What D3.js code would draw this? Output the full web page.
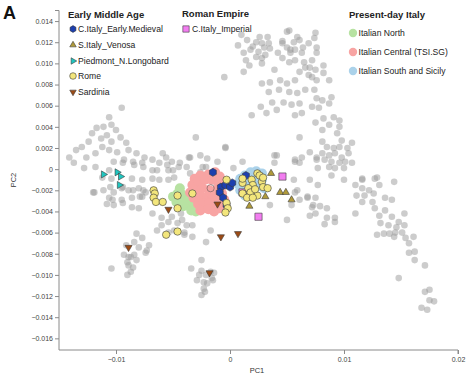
<!DOCTYPE html>
<html><head><meta charset="utf-8">
<script src="https://cdn.jsdelivr.net/npm/d3@7"></script>
<style>html,body{margin:0;padding:0;background:#fff;}svg{display:block;font-family:"Liberation Sans",Arial,Helvetica,sans-serif;}</style>
</head><body><svg id="c" width="467" height="381"></svg>
<script>
// ---------- data (PC1, PC2) ----------
const referencePanel = [
[0.0010,0.0127],[0.0015,0.0122],[0.0023,0.0120],[0.0028,0.0119],[0.0018,0.0113],[0.0025,0.0111],[0.0012,0.0110],[0.0023,0.0106],[0.0028,0.0105],[0.0014,0.0103],
[0.0033,0.0125],[0.0026,0.0125],[0.0020,0.0116],[0.0050,0.0130],[0.0059,0.0125],[0.0046,0.0119],[0.0053,0.0113],[0.0064,0.0115],[0.0031,0.0108],[0.0042,0.0110],
[0.0035,0.0114],[0.0017,0.0098],[0.0007,0.0117],
[0.0052,0.0131],[0.0075,0.0129],[0.0074,0.0124],[0.0061,0.0122],[0.0056,0.0120],[0.0046,0.0121],[0.0034,0.0119],[0.0030,0.0115],[0.0050,0.0115],[0.0057,0.0113],
[0.0063,0.0110],[0.0053,0.0110],[0.0069,0.0119],[0.0076,0.0115],[0.0046,0.0105],[0.0052,0.0101],[0.0057,0.0103],[0.0065,0.0101],[0.0072,0.0103],[0.0076,0.0110],
[0.0066,0.0096],[0.0061,0.0092],[0.0070,0.0096],[0.0075,0.0094],[0.0082,0.0098],[0.0039,0.0094],[0.0035,0.0082],[0.0044,0.0084],[0.0050,0.0081],[0.0057,0.0084],
[0.0069,0.0089],[0.0072,0.0087],[0.0076,0.0084],[0.0082,0.0091],[0.0087,0.0084],[0.0034,0.0073],[0.0043,0.0075],[0.0052,0.0073],[0.0059,0.0072],[0.0066,0.0075],
[0.0074,0.0075],[0.0076,0.0067],[0.0081,0.0065],[0.0087,0.0062],[0.0089,0.0068],[0.0037,0.0063],[0.0047,0.0063],[0.0054,0.0061],[0.0061,0.0062],[0.0072,0.0059],
[0.0078,0.0058],[0.0032,0.0053],[0.0041,0.0056],[0.0057,0.0051],[0.0063,0.0053],[0.0082,0.0048],[0.0091,0.0049],[0.0096,0.0046],[0.0075,0.0044],[0.0087,0.0042],
[0.0096,0.0040],[0.0081,0.0037],[0.0094,0.0034],[0.0061,0.0030],[0.0098,0.0027],[0.0107,0.0025],[0.0081,0.0026],[0.0085,0.0021],[0.0091,0.0020],[0.0096,0.0021],
[0.0103,0.0020],[0.0081,0.0015],[0.0087,0.0013],[0.0092,0.0015],[0.0098,0.0011],[0.0104,0.0015],[0.0083,0.0009],[0.0089,0.0007],[0.0096,0.0006],[0.0101,0.0007],
[0.0087,0.0002],[0.0092,0.0001],[0.0076,0.0011],[0.0100,0.0001],[0.0107,0.0006],[0.0039,0.0013],[0.0057,0.0009],[0.0063,0.0011],[0.0039,0.0006],[0.0116,-0.0009],
[0.0129,-0.0008],[0.0028,0.0100],[-0.0005,0.0087],[0.0012,0.0092],[0.0028,0.0081],[0.0019,0.0051],[0.0027,0.0059],
[-0.0004,0.0021],[0.0041,0.0013],[0.0057,0.0007],[0.0061,0.0006],[0.0070,0.0016],[0.0076,0.0009],[0.0077,0.0001],[0.0070,-0.0010],[0.0077,-0.0015],[0.0059,-0.0020],
[0.0068,-0.0026],[0.0073,-0.0034],[-0.0024,0.0002],[-0.0020,0.0010],[-0.0011,0.0007],[-0.0026,-0.0003],[0.0011,0.0007],[0.0003,0.0001],[0.0050,-0.0048],
[0.0056,-0.0010],[0.0089,-0.0006],[0.0100,-0.0010],[0.0116,-0.0010],[0.0127,-0.0009],[0.0144,-0.0012],[0.0131,-0.0015],[0.0110,-0.0015],[0.0116,-0.0018],[0.0122,-0.0020],
[0.0111,-0.0025],[0.0118,-0.0025],[0.0126,-0.0023],[0.0057,-0.0022],[0.0061,-0.0029],[0.0068,-0.0027],[0.0075,-0.0027],[0.0072,-0.0036],[0.0079,-0.0035],[0.0085,-0.0037],
[0.0070,-0.0044],[0.0075,-0.0042],[0.0085,-0.0046],[0.0092,-0.0046],[0.0083,-0.0052],[0.0092,-0.0050],[0.0054,-0.0034],[0.0035,-0.0034],[0.0116,-0.0031],[0.0125,-0.0031],
[0.0136,-0.0027],[0.0142,-0.0029],[0.0127,-0.0037],[0.0131,-0.0044],[0.0136,-0.0039],[0.0142,-0.0045],[0.0153,-0.0042],[0.0148,-0.0050],[0.0132,-0.0051],[0.0139,-0.0053],
[0.0146,-0.0055],[0.0153,-0.0053],[0.0129,-0.0062],[0.0135,-0.0061],[0.0140,-0.0061],[0.0145,-0.0060],[0.0144,-0.0064],[0.0151,-0.0060],[0.0154,-0.0065],[0.0161,-0.0064],
[0.0157,-0.0070],[0.0157,-0.0079],[0.0162,-0.0078],[0.0162,-0.0086],[0.0171,-0.0091],[0.0148,-0.0103],[0.0171,-0.0116],[0.0175,-0.0114],[0.0175,-0.0124],[0.0179,-0.0125],
[0.0168,-0.0131],[0.0173,-0.0133],[0.0110,-0.0042],
[-0.0095,0.0058],[-0.0106,0.0049],[-0.0104,0.0042],[-0.0111,0.0040],[-0.0117,0.0039],[-0.0100,0.0037],[-0.0108,0.0032],[-0.0113,0.0029],[-0.0121,0.0034],[-0.0096,0.0030],
[-0.0104,0.0026],[-0.0091,0.0025],[-0.0112,0.0021],[-0.0124,0.0026],[-0.0130,0.0021],[-0.0135,0.0018],[-0.0126,0.0011],[-0.0141,0.0011],[-0.0118,0.0015],[-0.0106,0.0018],
[-0.0099,0.0016],[-0.0089,0.0018],[-0.0082,0.0015],[-0.0075,0.0011],[-0.0068,0.0009],[-0.0062,0.0006],[-0.0077,0.0006],[-0.0084,0.0004],[-0.0093,0.0009],[-0.0102,0.0007],
[-0.0056,0.0011],[-0.0051,0.0007],[-0.0045,0.0002],[-0.0036,0.0011],[-0.0030,0.0030],[-0.0004,0.0020],[-0.0021,0.0002],[-0.0054,-0.0001],[-0.0068,-0.0001],[-0.0118,0.0002],
[-0.0128,0.0001],[-0.0137,0.0006],
[-0.0106,-0.0001],[-0.0094,0.0006],[-0.0085,0.0007],[-0.0076,0.0002],[-0.0064,-0.0001],[-0.0120,-0.0022],[-0.0105,-0.0017],[-0.0094,-0.0017],[-0.0085,-0.0020],[-0.0079,-0.0026],
[-0.0076,-0.0020],[-0.0103,-0.0029],[-0.0094,-0.0032],[-0.0044,0.0006],[-0.0035,0.0011],[-0.0038,0.0002],[-0.0055,0.0004],[-0.0050,-0.0001],[-0.0059,0.0015],[-0.0026,0.0013],
[-0.0035,-0.0004],
[-0.0112,-0.0008],[-0.0104,-0.0009],[-0.0086,-0.0009],[-0.0077,-0.0010],[-0.0068,-0.0009],[-0.0062,-0.0010],[-0.0054,-0.0010],[-0.0049,-0.0008],[-0.0119,-0.0022],[-0.0111,-0.0020],
[-0.0102,-0.0022],[-0.0095,-0.0018],[-0.0089,-0.0020],[-0.0080,-0.0018],[-0.0074,-0.0022],[-0.0106,-0.0027],[-0.0095,-0.0029],[-0.0086,-0.0027],[-0.0077,-0.0026],[-0.0108,-0.0033],
[-0.0102,-0.0034],[-0.0080,-0.0037],[-0.0068,-0.0042],[-0.0065,-0.0031],[-0.0086,-0.0036],
[-0.0060,-0.0053],[-0.0054,-0.0050],[-0.0051,-0.0045],[-0.0046,-0.0051],[-0.0042,-0.0048],[-0.0038,-0.0053],[-0.0040,-0.0060],[-0.0033,-0.0053],[-0.0033,-0.0064],[-0.0064,-0.0058],
[-0.0054,-0.0060],[-0.0060,-0.0046],[-0.0049,-0.0058],[-0.0043,-0.0042],[-0.0040,-0.0062],[-0.0021,-0.0069],[-0.0017,-0.0058],
[-0.0082,-0.0061],[-0.0077,-0.0065],[-0.0084,-0.0069],[-0.0080,-0.0074],[-0.0071,-0.0072],[-0.0074,-0.0079],[-0.0091,-0.0072],[-0.0084,-0.0081],[-0.0093,-0.0081],[-0.0087,-0.0083],
[-0.0090,-0.0088],[-0.0082,-0.0086],[-0.0089,-0.0091],[-0.0104,-0.0094],[-0.0090,-0.0100],[-0.0087,-0.0097],[-0.0073,-0.0077],[-0.0089,-0.0083],[-0.0085,-0.0093],
[-0.0034,-0.0094],[-0.0025,-0.0086],[-0.0025,-0.0096],[-0.0027,-0.0100],[-0.0021,-0.0100],[-0.0017,-0.0097],[-0.0016,-0.0103],[-0.0023,-0.0107],[-0.0029,-0.0105],[-0.0020,-0.0108],
[-0.0023,-0.0113],[-0.0025,-0.0119],[-0.0014,-0.0098],[-0.0022,-0.0116],[-0.0015,-0.0105]
];

const italianNorth = [[-0.0044,-0.0018],[-0.0046,-0.0023],[-0.0050,-0.0026],[-0.0047,-0.0031],[-0.0042,-0.0029],[-0.0039,-0.0026],[-0.0041,-0.0035],[-0.0037,-0.0034],[-0.0034,-0.0039],[-0.0030,-0.0040],[-0.0026,-0.0036],[-0.0032,-0.0032],[-0.0038,-0.0029],[-0.0027,-0.0029],[-0.0043,-0.0023]];
const italianCentral = [[-0.0031,-0.0009],[-0.0026,-0.0006],[-0.0019,-0.0005],[-0.0013,-0.0003],[-0.0009,-0.0007],[-0.0033,-0.0015],[-0.0028,-0.0012],[-0.0022,-0.0010],[-0.0016,-0.0010],[-0.0011,-0.0012],[-0.0007,-0.0015],[-0.0035,-0.0022],[-0.0030,-0.0020],[-0.0024,-0.0018],[-0.0018,-0.0020],[-0.0012,-0.0020],[-0.0007,-0.0023],[-0.0032,-0.0027],[-0.0026,-0.0026],[-0.0020,-0.0026],[-0.0015,-0.0026],[-0.0010,-0.0028],[-0.0028,-0.0033],[-0.0023,-0.0032],[-0.0018,-0.0032],[-0.0012,-0.0034],[-0.0026,-0.0039],[-0.0019,-0.0038],[-0.0014,-0.0040],[-0.0009,-0.0037],[-0.0005,-0.0029]];
const italianSouth = [[0.0009,-0.0009],[0.0013,-0.0006],[0.0018,-0.0003],[0.0023,-0.0002],[0.0028,-0.0004],[0.0007,-0.0014],[0.0012,-0.0013],[0.0018,-0.0010],[0.0023,-0.0009],[0.0028,-0.0010],[0.0009,-0.0020],[0.0014,-0.0019],[0.0019,-0.0017],[0.0025,-0.0016],[0.0030,-0.0018],[0.0013,-0.0025],[0.0019,-0.0023]];

const earlyMedieval = [[-0.0015,-0.0003],[-0.0008,-0.0017],[-0.0004,-0.0015],[0.0000,-0.0017],[0.0002,-0.0013],[-0.0009,-0.0022],[-0.0006,-0.0027],[-0.0003,-0.0034],[0.0014,-0.0006]];
const venosa = [[0.0036,-0.0004],[0.0044,-0.0022],[0.0049,-0.0022],[0.0054,-0.0029],[0.0031,-0.0026],[0.0017,-0.0035]];
const piedmont = [[-0.0111,-0.0005],[-0.0099,-0.0003],[-0.0096,-0.0007],[-0.0097,-0.0015]];
const rome = [[-0.0067,-0.0020],[-0.0066,-0.0023],[-0.0067,-0.0027],[-0.0065,-0.0031],[-0.0059,-0.0031],[-0.0046,-0.0025],[-0.0046,-0.0037],[-0.0033,-0.0023],[-0.0056,-0.0062],[-0.0046,-0.0059],
[-0.0003,-0.0010],[-0.0003,-0.0032],[-0.0002,-0.0037],[-0.0004,-0.0041],[0.0011,-0.0013],[0.0011,-0.0009],[0.0019,-0.0010],[0.0024,-0.0004],[0.0026,-0.0006],[0.0020,-0.0015],
[0.0016,-0.0018],[0.0028,-0.0012],[0.0029,-0.0017],[0.0011,-0.0023],[0.0018,-0.0022],[0.0024,-0.0025],[0.0033,-0.0018],[0.0015,-0.0027],[0.0020,-0.0027],[0.0029,-0.0008],[0.0022,-0.0019]];
const sardinia = [[-0.0054,-0.0038],[-0.0011,-0.0033],[-0.0008,-0.0064],[0.0007,-0.0061],[-0.0089,-0.0074],[-0.0018,-0.0098]];
const imperial = [[0.0046,-0.0007],[0.0011,-0.0022],[0.0019,-0.0023],[0.0025,-0.0045]];
const openSample = [[-0.0017,-0.0018]];

const xTicks = [-0.01, 0, 0.01, 0.02];
const xTickLabels = ["\u22120.01", "0", "0.01", "0.02"];
const yTicks = [0.014,0.012,0.010,0.008,0.006,0.004,0.002,0,-0.002,-0.004,-0.006,-0.008,-0.010,-0.012,-0.014,-0.016];
const yTickLabels = ["0.014","0.012","0.010","0.008","0.006","0.004","0.002","0","\u22120.002","\u22120.004","\u22120.006","\u22120.008","\u22120.010","\u22120.012","\u22120.014","\u22120.016"];

const ancientGroups = ["C.Italy_Early.Medieval","S.Italy_Venosa","Piedmont_N.Longobard","Rome","Sardinia"];
const romanGroups = ["C.Italy_Imperial"];
const modernGroups = ["Italian North","Italian Central (TSI.SG)","Italian South and Sicily"];

// ---------- drawing ----------
const svg = d3.select("#c");
const x = d3.scaleLinear().domain([-0.015, 0.02]).range([59, 458]);
const y = d3.scaleLinear().domain([-0.0171, 0.015]).range([350, 10.5]);

const col = {
  em: "#1d3fae", ven: "#b09a3a", pie: "#1fc6c0", rome: "#f3e67c", sar: "#9c4b15", imp: "#f27df0",
  north: "#b7e2a2", central: "#f8a4a3", south: "#abd2ea"
};

// axes
const gx = svg.append("g").attr("transform","translate(0,350)")
  .call(d3.axisBottom(x).tickValues(xTicks).tickSize(4).tickFormat((d,i)=>xTickLabels[i]));
const gy = svg.append("g").attr("transform","translate(59,0)")
  .call(d3.axisLeft(y).tickValues(yTicks).tickSize(4).tickFormat((d,i)=>yTickLabels[i]));
[gx, gy].forEach(g => {
  g.select(".domain").attr("stroke","#8a8a8a").attr("stroke-width",1);
  g.selectAll(".tick line").attr("stroke","#8a8a8a");
  g.selectAll(".tick text").attr("fill","#444").style("font-size","7px").style("font-family","Liberation Sans, Arial, sans-serif");
});
gy.select(".domain").attr("d","M-4,"+10.5+"H0V350");
gx.select(".domain").attr("d","M59,0V0H458V4");
gy.selectAll(".tick text").attr("x",-6);
gx.selectAll(".tick text").attr("y",7);

svg.append("text").attr("x",257).attr("y",373).attr("text-anchor","middle").style("font-size","7.5px").attr("fill","#333").text("PC1");
svg.append("text").attr("transform","translate(16,180) rotate(-90)").attr("text-anchor","middle").style("font-size","7.5px").attr("fill","#333").text("PC2");
svg.append("text").attr("x",3).attr("y",19).style("font-size","18px").style("font-weight","bold").attr("fill","#111").text("A");

const plot = svg.append("g");

// reference panel
plot.selectAll("circle.ref").data(referencePanel).join("circle")
  .attr("cx",d=>x(d[0])).attr("cy",d=>y(d[1])).attr("r",3.3)
  .attr("fill","#9a9a9a").attr("fill-opacity",0.5);

// present-day blobs
function blob(data, c){
  plot.append("g").selectAll("circle").data(data).join("circle")
    .attr("cx",d=>x(d[0])).attr("cy",d=>y(d[1])).attr("r",5).attr("fill",c);
}
blob(italianNorth, col.north);
blob(italianCentral, col.central);
blob(italianSouth, col.south);

// shapes
const hexPath = r => { let p=[]; for(let i=0;i<6;i++){const a=Math.PI/3*i+Math.PI/6; p.push([r*Math.cos(a), r*Math.sin(a)]);} return "M"+p.map(q=>q.join(",")).join("L")+"Z"; };
const tri = d3.symbol().type(d3.symbolTriangle).size(22)();
const sq = d3.symbol().type(d3.symbolSquare).size(52)();
const stroke = "#3a3a3a";

function markers(data, path, fill, rot){
  plot.append("g").selectAll("path").data(data).join("path")
    .attr("d",path)
    .attr("transform",d=>`translate(${x(d[0])},${y(d[1])}) rotate(${rot||0})`)
    .attr("fill",fill).attr("stroke",stroke).attr("stroke-width",0.6);
}
function circles(data, fill){
  plot.append("g").selectAll("circle").data(data).join("circle")
    .attr("cx",d=>x(d[0])).attr("cy",d=>y(d[1])).attr("r",3.7)
    .attr("fill",fill).attr("stroke",stroke).attr("stroke-width",0.6);
}
plot.append("g").selectAll("circle").data(openSample).join("circle")
  .attr("cx",d=>x(d[0])).attr("cy",d=>y(d[1])).attr("r",3.6)
  .attr("fill","none").attr("stroke","#8a6a6a").attr("stroke-width",0.8);
markers(imperial, sq, col.imp, 0);
markers(earlyMedieval, hexPath(4), col.em, 0);
markers(venosa, tri, col.ven, 0);
circles(rome, col.rome);
markers(sardinia, tri, col.sar, 180);
markers(piedmont, tri, col.pie, 90);

// legends
const lg = svg.append("g");
function title(t, xx, yy){ lg.append("text").attr("x",xx).attr("y",yy).style("font-size","9.5px").style("font-weight","bold").attr("fill","#222").text(t); }
function label(t, xx, yy){ lg.append("text").attr("x",xx).attr("y",yy).style("font-size","8.6px").attr("fill","#222").text(t); }

title("Early Middle Age", 68, 18);
const emY = [29, 45, 61, 76, 92];
const legTri = d3.symbol().type(d3.symbolTriangle).size(18)();
const emShapes = [
  {p:hexPath(3.4), f:col.em, r:0},
  {p:legTri, f:col.ven, r:0},
  {p:legTri, f:col.pie, r:90},
  {p:null, f:col.rome},
  {p:legTri, f:col.sar, r:180}
];
ancientGroups.forEach((g,i)=>{
  const s = emShapes[i];
  if(s.p){
    lg.append("path").attr("d",s.p).attr("transform",`translate(73,${emY[i]}) rotate(${s.r})`).attr("fill",s.f).attr("stroke",stroke).attr("stroke-width",0.6);
  } else {
    lg.append("circle").attr("cx",73).attr("cy",emY[i]).attr("r",3.3).attr("fill",s.f).attr("stroke",stroke).attr("stroke-width",0.6);
  }
  label(g, 78, emY[i]+3);
});

title("Roman Empire", 182, 17);
romanGroups.forEach((g,i)=>{
  lg.append("path").attr("d",d3.symbol().type(d3.symbolSquare).size(40)()).attr("transform",`translate(186,29)`).attr("fill",col.imp).attr("stroke",stroke).attr("stroke-width",0.6);
  label(g, 192, 32);
});

title("Present-day Italy", 349, 18);
const mY = [33, 52, 71];
const mCol = [col.north, col.central, col.south];
modernGroups.forEach((g,i)=>{
  lg.append("circle").attr("cx",353).attr("cy",mY[i]).attr("r",4.2).attr("fill",mCol[i]);
  label(g, 358.5, mY[i]+3);
});
</script></body></html>
